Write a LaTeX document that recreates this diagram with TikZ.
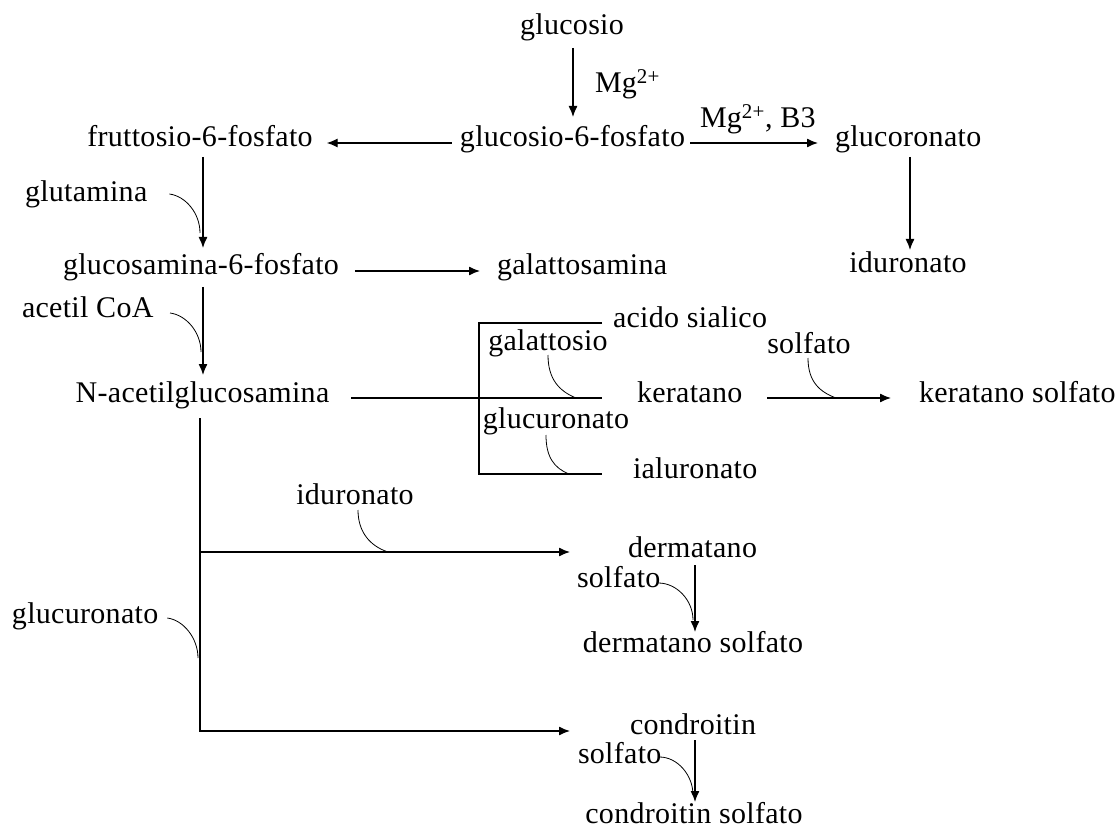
\documentclass[tikz,border=0pt]{standalone}
\usepackage{fontspec}
\setmainfont{Liberation Serif}[LetterSpace=1]
\usetikzlibrary{arrows.meta}
\begin{document}
\begin{tikzpicture}[x=1pt,y=-1pt,
  every node/.style={inner sep=0pt,outer sep=0pt,font=\fontsize{30}{33}\selectfont},
  arr/.style={-{Latex[length=11pt,width=9pt]},line width=1.3pt},
  ln/.style={line width=1.3pt},
  rg/.style={line width=0.8pt}]
\fill[white] (0,0) rectangle (1120,829);
\useasboundingbox (0,0) rectangle (1120,829);

% nodes
\node[anchor=base] (glc) at (572,35) {glucosio};
\node[anchor=base west] (mg1) at (595,93) {Mg\textsuperscript{2+}};
\node[anchor=base] (g6p) at (572.5,147) {glucosio-6-fosfato};
\node[anchor=base] (f6p) at (200,147) {fruttosio-6-fosfato};
\node[anchor=base west] (mgb3) at (700,128) {Mg\textsuperscript{2+}, B3};
\node[anchor=base west] (gcr) at (835,147) {glucoronato};
\node[anchor=base] (idr) at (908,273) {iduronato};
\node[anchor=base west] (glut) at (25,202) {glutamina};
\node[anchor=base] (gn6p) at (201,275) {glucosamina-6-fosfato};
\node[anchor=base west] (gals) at (497,275) {galattosamina};
\node[anchor=base west] (acoa) at (22,317) {acetil CoA};
\node[anchor=base] (nag) at (202.5,402) {N-acetilglucosamina};
\node[anchor=base west] (acs) at (613,327) {acido sialico};
\node[anchor=base] (gal) at (548,350) {galattosio};
\node[anchor=base west] (ker) at (637,402) {keratano};
\node[anchor=base] (gcu1) at (556,428) {glucuronato};
\node[anchor=base west] (ial) at (633,478) {ialuronato};
\node[anchor=base] (sol1) at (809,353) {solfato};
\node[anchor=base west] (ks) at (919,402) {keratano solfato};
\node[anchor=base] (idr2) at (355,504) {iduronato};
\node[anchor=base west] (gcu2) at (12,623) {glucuronato};
\node[anchor=base west] (derm) at (628,557) {dermatano};
\node[anchor=base west] (sol2) at (577,587) {solfato};
\node[anchor=base] (ds) at (693,652) {dermatano solfato};
\node[anchor=base west] (cond) at (630,734) {condroitin};
\node[anchor=base west] (sol3) at (578,763) {solfato};
\node[anchor=base] (cs) at (694,823) {condroitin solfato};

% main arrows
\draw[arr] ([shift={(1,13)}]glc.base) -- ([shift={(0.5,-30)}]g6p.base);
\draw[arr] ([shift={(-8,-4)}]g6p.base west) -- ([shift={(14,-4)}]f6p.base east);
\draw[arr] ([shift={(5,-4)}]g6p.base east) -- ([shift={(-17,-4)}]gcr.base west);
\draw[arr] ([shift={(75,10)}]gcr.base west) -- ([shift={(2,-23)}]idr.base);
\draw[arr] ([shift={(3,10)}]f6p.base) -- ([shift={(2,-27)}]gn6p.base);
\draw[arr] ([shift={(16,-4)}]gn6p.base east) -- ([shift={(-17,-4)}]gals.base west);
\draw[arr] ([shift={(2,12)}]gn6p.base) -- ([shift={(0.5,-27)}]nag.base);

% N-acetilglucosamina to bracket
\draw[ln] ([shift={(22,-4)}]nag.base east) -- ([shift={(-35,-4)}]ker.base west);
\draw[ln] ([shift={(-11,-4)}]acs.base west) -- ([shift={(-134,-4)}]acs.base west)
  -- ([shift={(-154,-4)}]ial.base west) -- ([shift={(-31,-4)}]ial.base west);
\draw[arr] ([shift={(25,-4)}]ker.base east) -- ([shift={(-28,-4)}]ks.base west);

% lower branch
\draw[arr] ([shift={(-2.5,16)}]nag.base) -- ([shift={(-430,-3)}]cond.base west) -- ([shift={(-60,-3)}]cond.base west);
\draw[arr] ([shift={(-428,-5)}]derm.base west) -- ([shift={(-58,-5)}]derm.base west);
\draw[arr] ([shift={(67,8)}]derm.base west) -- ([shift={(2,-20)}]ds.base);
\draw[arr] ([shift={(65,6)}]cond.base west) -- ([shift={(1,-21)}]cs.base);

% reagent curves
\draw[rg] ([shift={(22,-8)}]glut.base east) .. controls +(16,2) and +(0,-20) .. ([shift={(-1,-42)}]gn6p.base);
\draw[rg] ([shift={(148,-4)}]acoa.base west) .. controls +(16,2) and +(0,-20) .. ([shift={(-1.5,-50)}]nag.base);
\draw[rg] ([shift={(0,5)}]gal.base) .. controls +(0,24) and +(-17,-7) .. ([shift={(-61,-4)}]ker.base west);
\draw[rg] ([shift={(-10,7)}]gcu1.base) .. controls +(0,22) and +(-15,-6) .. ([shift={(-64,-4)}]ial.base west);
\draw[rg] ([shift={(-1,5)}]sol1.base) .. controls +(0,24) and +(-16,-6) .. ([shift={(-83,-4)}]ks.base west);
\draw[rg] ([shift={(3,6)}]idr2.base) .. controls +(0,22) and +(-18,-6) .. ([shift={(-240,-5)}]derm.base west);
\draw[rg] ([shift={(9,-5)}]gcu2.base east) .. controls +(16,2) and +(0,-20) .. ([shift={(186,35)}]gcu2.base west);
\draw[rg] ([shift={(-2,-4)}]sol2.base east) .. controls +(18,0) and +(0,-20) .. ([shift={(0,-32)}]ds.base);
\draw[rg] ([shift={(-2,-6)}]sol3.base east) .. controls +(18,0) and +(0,-20) .. ([shift={(-1,-28)}]cs.base);
\end{tikzpicture}
\end{document}
